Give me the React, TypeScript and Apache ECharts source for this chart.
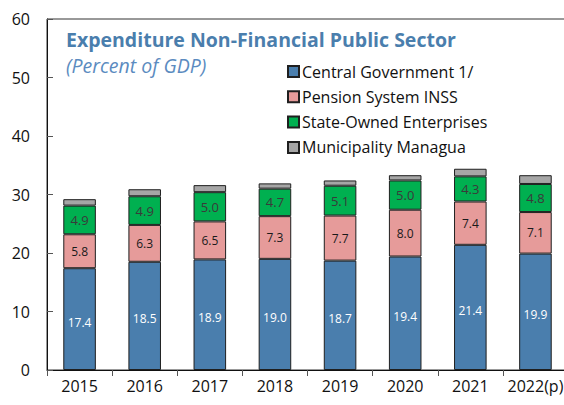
import React, { useEffect, useRef } from "react";
import * as echarts from "echarts";

const categories = ["2015", "2016", "2017", "2018", "2019", "2020", "2021", "2022(p)"];
const centralGov = [17.4, 18.5, 18.9, 19.0, 18.7, 19.4, 21.4, 19.9];
const pensionINSS = [5.8, 6.3, 6.5, 7.3, 7.7, 8.0, 7.4, 7.1];
const stateOwned = [4.9, 4.9, 5.0, 4.7, 5.1, 5.0, 4.3, 4.8];
const municipality = [1.1, 1.2, 1.2, 0.9, 0.9, 0.9, 1.3, 1.5];
const yTicks = { min: 0, max: 60, interval: 10 };

const FONT = "Open Sans";

export default function App() {
  const ref = useRef<HTMLDivElement>(null);
  useEffect(() => {
    if (!ref.current) return;
    const chart = echarts.init(ref.current, undefined, { renderer: "svg" });
    const border = { borderColor: "#1f1f1f", borderWidth: 1 };
    const mkLabel = (color: string, size: number, offset: number[] = [0, 0]) => ({
      show: true,
      position: "inside",
      color,
      fontSize: size,
      fontFamily: FONT,
      offset,
      formatter: (p: any) => Number(p.value).toFixed(1),
    });
    chart.setOption({
      animation: false,
      textStyle: { fontFamily: FONT },
      title: {
        text: "Expenditure Non-Financial Public Sector",
        subtext: "(Percent of GDP)",
        left: 66,
        top: 28,
        padding: 0,
        itemGap: 3,
        textStyle: { fontFamily: FONT, fontSize: 19.5, fontWeight: "bold", color: "#4A7EAD", lineHeight: 23 },
        subtextStyle: { fontFamily: FONT, fontSize: 19.5, fontStyle: "italic", color: "#5B8BC0", lineHeight: 22 },
      },
      legend: {
        orient: "vertical",
        left: 287,
        top: 62,
        itemWidth: 11,
        itemHeight: 11,
        itemGap: 6.3,
        icon: "rect",
        padding: 0,
        textStyle: { fontFamily: FONT, fontSize: 16, color: "#111", lineHeight: 19, padding: [0, 0, 0, -2] },
        data: ["Central Government 1/", "Pension System INSS", "State-Owned Enterprises", "Municipality Managua"],
      },
      grid: {
        left: 47,
        right: 0,
        top: 19,
        bottom: 35,
        show: true,
        borderColor: "#333",
        borderWidth: 1,
        containLabel: false,
      },
      xAxis: {
        type: "category",
        data: categories,
        axisLine: { lineStyle: { color: "#111", width: 1 } },
        axisTick: { show: true, length: 6, lineStyle: { color: "#555" } },
        axisLabel: { color: "#111", fontSize: 16, fontFamily: FONT, margin: 8, interval: 0, hideOverlap: false },
      },
      yAxis: {
        type: "value",
        min: yTicks.min,
        max: yTicks.max,
        interval: yTicks.interval,
        splitLine: { show: false },
        axisLine: { show: true, lineStyle: { color: "#111", width: 1 } },
        axisTick: { show: true, inside: true, length: 6, lineStyle: { color: "#555" } },
        axisLabel: { color: "#111", fontSize: 16, fontFamily: FONT, margin: 17 },
      },
      series: [
        {
          name: "Central Government 1/",
          type: "bar",
          stack: "total",
          barWidth: "50%",
          data: centralGov,
          itemStyle: { color: "#4A7EAD", ...border },
          label: mkLabel("#FFFFFF", 12, [0, 3]),
        },
        {
          name: "Pension System INSS",
          type: "bar",
          stack: "total",
          data: pensionINSS,
          itemStyle: { color: "#E69B9A", ...border },
          label: mkLabel("#1a1a1a", 12),
        },
        {
          name: "State-Owned Enterprises",
          type: "bar",
          stack: "total",
          data: stateOwned,
          itemStyle: { color: "#00B050", ...border },
          label: mkLabel("#3a3a3a", 13),
        },
        {
          name: "Municipality Managua",
          type: "bar",
          stack: "total",
          data: municipality,
          itemStyle: { color: "#A6A6A6", ...border },
          label: { show: false },
        },
      ],
    });
    return () => chart.dispose();
  }, []);
  return (
    <div style={{ position: "fixed", left: 0, top: 0, width: 564, height: 405, overflow: "hidden", background: "#fff" }}>
      <div ref={ref} style={{ width: 568, height: 405 }} />
    </div>
  );
}
